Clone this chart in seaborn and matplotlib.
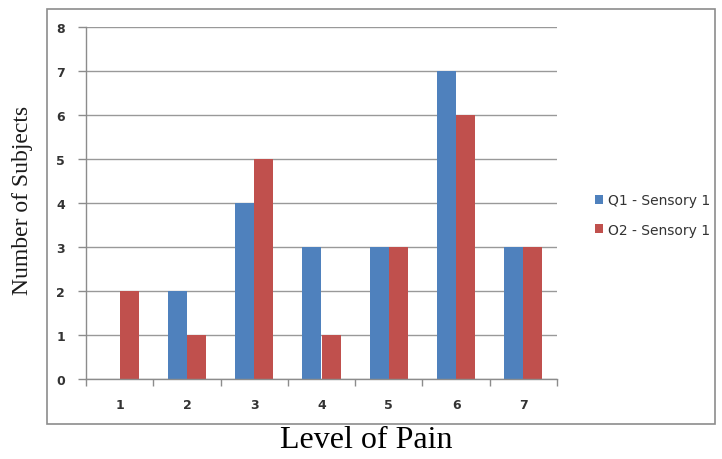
import pandas as pd
import matplotlib
matplotlib.use('Agg')
import matplotlib.pyplot as plt
import seaborn as sns
from matplotlib.patches import Rectangle
from matplotlib.ticker import FixedLocator

# data
levels = ['1', '2', '3', '4', '5', '6', '7']
q1_sensory = [0, 2, 4, 3, 3, 7, 3]
q2_sensory = [2, 1, 5, 1, 3, 6, 3]
series_names = ['Q1 - Sensory 1', 'O2 - Sensory 1']
colors = ['#4F81BD', '#C0504D']

df = pd.DataFrame({
    'level': levels * 2,
    'count': q1_sensory + q2_sensory,
    'series': [series_names[0]] * len(levels) + [series_names[1]] * len(levels),
})

sns.set_style('white')
plt.rcParams['font.family'] = ['DejaVu Sans']

fig = plt.figure(figsize=(7.22, 4.6), dpi=100)
ax = fig.add_axes([86 / 722, 80 / 460, (557 - 86) / 722, (380 - 28) / 460])

sns.barplot(data=df, x='level', y='count', hue='series', palette=colors,
            width=0.565, linewidth=0, saturation=1, ax=ax)

ax.set_ylim(0, 8)
ax.set_yticks(range(0, 9))
ax.set_xlim(-0.5, 6.5)
ax.yaxis.grid(True, color='#999999', linewidth=1)
ax.set_axisbelow(True)

for s in ['top', 'right']:
    ax.spines[s].set_visible(False)
for s in ['left', 'bottom']:
    ax.spines[s].set_color('#8c8c8c')
    ax.spines[s].set_linewidth(1)

ax.tick_params(axis='y', length=6, width=1, color='#8c8c8c', pad=9,
               labelsize=9, labelcolor='#333333', left=True)
ax.tick_params(axis='x', which='major', length=0, pad=14,
               labelsize=9, labelcolor='#333333')
for lab in ax.get_xticklabels() + ax.get_yticklabels():
    lab.set_fontweight('semibold')
ax.xaxis.set_minor_locator(FixedLocator([i + 0.5 for i in range(-1, 7)]))
ax.tick_params(axis='x', which='minor', length=5, width=1, color='#8c8c8c', bottom=True)
ax.set_xlabel('')
ax.set_ylabel('')

handles, labels = ax.get_legend_handles_labels()
ax.legend(handles, labels, loc='center left', bbox_to_anchor=(582 / 722, 1 - 216 / 460),
          bbox_transform=fig.transFigure, frameon=False, fontsize=10,
          handlelength=0.6, handleheight=0.6, handletextpad=0.4, labelspacing=1.1,
          labelcolor='#333333')

# outer chart frame
fig.patches.append(Rectangle((47 / 722, 35 / 460), 0.99 - 47 / 722, 415 / 460,
                             transform=fig.transFigure, fill=False,
                             edgecolor='#8c8c8c', linewidth=1.2))

fig.text(23 / 722, 1 - 200 / 460, 'Number of Subjects', rotation=90, ha='center', va='center',
         family='Liberation Serif', fontsize=17, color='#1a1a1a')
fig.text(366 / 722, 1 - 441 / 460, 'Level of Pain', ha='center', va='center',
         family='Liberation Serif', fontsize=23, color='#000000')

fig.savefig('out.png', dpi=100)
